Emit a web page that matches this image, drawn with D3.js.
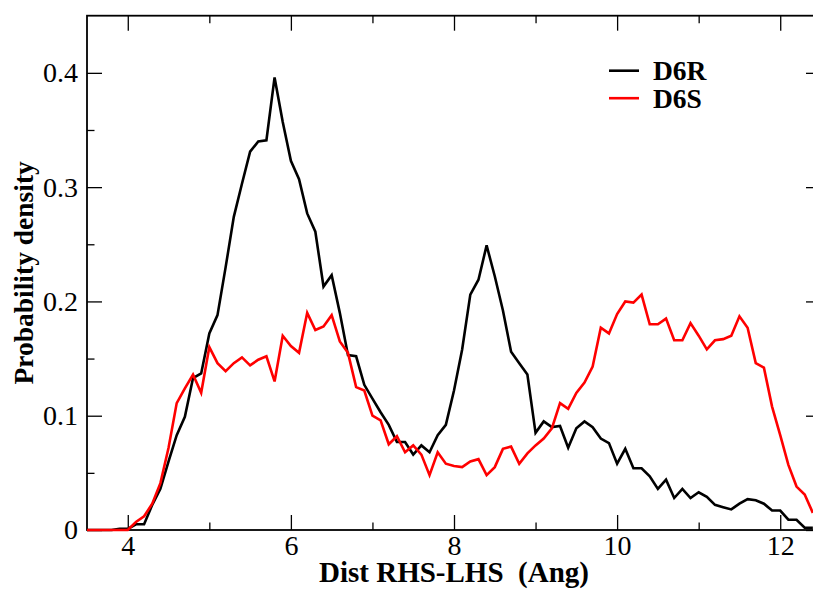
<!DOCTYPE html>
<html>
<head>
<meta charset="utf-8">
<script src="https://cdn.jsdelivr.net/npm/d3@7"></script>
<style>
  html, body { margin: 0; padding: 0; background: #fff; }
  svg { display: block; font-family: "Liberation Serif", "DejaVu Serif", serif; }
</style>
</head>
<body>
<svg id="chart" width="813" height="589"></svg>
<script>
// Distance bins (Å), 0.1 Å apart, from 3.5 to 12.4
const distances = d3.range(35, 125).map(i => i / 10);

// Probability density, D6R
const d6r = [
  0, 0, 0, 0, 0.001,
  0.001, 0.005, 0.005, 0.022, 0.036, 0.060, 0.083, 0.099, 0.133, 0.137,
  0.172, 0.188, 0.230, 0.274, 0.303, 0.331, 0.340, 0.341, 0.396, 0.357,
  0.323, 0.307, 0.277, 0.261, 0.213, 0.223, 0.190, 0.153, 0.152, 0.127,
  0.115, 0.103, 0.092, 0.077, 0.077, 0.066, 0.074, 0.068, 0.083, 0.092,
  0.122, 0.158, 0.206, 0.219, 0.249, 0.222, 0.192, 0.156, 0.146, 0.136,
  0.085, 0.095, 0.090, 0.091, 0.072, 0.089, 0.095, 0.090, 0.080, 0.076,
  0.058, 0.071, 0.054, 0.054, 0.047, 0.036, 0.044, 0.028, 0.036, 0.028,
  0.033, 0.029, 0.022, 0.020, 0.018, 0.023, 0.027, 0.026, 0.023, 0.017,
  0.017, 0.009, 0.009, 0.002, 0.002
];

// Probability density, D6S
const d6s = [
  0, 0, 0, 0, 0,
  0, 0.007, 0.012, 0.023, 0.041, 0.072, 0.111, 0.124, 0.136, 0.120,
  0.160, 0.146, 0.139, 0.146, 0.151, 0.144, 0.149, 0.152, 0.130, 0.170,
  0.161, 0.155, 0.190, 0.175, 0.178, 0.188, 0.165, 0.155, 0.125, 0.122,
  0.100, 0.096, 0.075, 0.082, 0.068, 0.074, 0.066, 0.048, 0.068, 0.058,
  0.056, 0.055, 0.060, 0.062, 0.048, 0.055, 0.071, 0.073, 0.058, 0.067,
  0.074, 0.080, 0.089, 0.111, 0.106, 0.120, 0.129, 0.143, 0.177, 0.172,
  0.189, 0.200, 0.199, 0.206, 0.180, 0.180, 0.185, 0.166, 0.166, 0.181,
  0.170, 0.158, 0.166, 0.167, 0.170, 0.187, 0.177, 0.146, 0.142, 0.108,
  0.083, 0.057, 0.038, 0.031, 0.015
];

const seriesNames = ["D6R", "D6S"];
const seriesColors = ["#000000", "#ff0000"];

const xMajor = [4, 6, 8, 10, 12];
const xMinor = [5, 7, 9, 11];
const yMajor = [0, 0.1, 0.2, 0.3, 0.4];
const yMinor = [0.05, 0.15, 0.25, 0.35];

const xTitle = "Dist RHS-LHS  (Ang)";
const yTitle = "Probability density";

// Frame geometry
const frameL = 87, frameR = 821, frameT = 15.7, frameB = 530;

const svg = d3.select("#chart");

const x = d3.scaleLinear().domain([3.5, 12.5]).range([frameL, frameR]);
const y = d3.scaleLinear().domain([0, 0.45]).range([frameB, frameT]);

const yFmt = d => d === 0 ? "0" : d3.format(".1f")(d);
const tickFont = 28;

function styleAxis(g) {
  g.select(".domain").remove();
  g.selectAll(".tick line").attr("stroke", "#000").attr("stroke-width", 1.3);
  g.selectAll("text").attr("font-size", tickFont).attr("fill", "#000")
    .attr("font-family", "Liberation Serif, serif");
}

// Bottom axis: major with labels, minor without
svg.append("g").attr("transform", `translate(0,${frameB})`)
  .call(d3.axisBottom(x).tickValues(xMajor).tickSize(-15).tickPadding(5).tickFormat(d3.format("d")))
  .call(styleAxis);
svg.append("g").attr("transform", `translate(0,${frameB})`)
  .call(d3.axisBottom(x).tickValues(xMinor).tickSize(-7.5).tickFormat(""))
  .call(styleAxis);

// Top axis (ticks only)
svg.append("g").attr("transform", `translate(0,${frameT})`)
  .call(d3.axisTop(x).tickValues(xMajor).tickSize(-15).tickFormat(""))
  .call(styleAxis);
svg.append("g").attr("transform", `translate(0,${frameT})`)
  .call(d3.axisTop(x).tickValues(xMinor).tickSize(-7.5).tickFormat(""))
  .call(styleAxis);

// Left axis
svg.append("g").attr("transform", `translate(${frameL},0)`)
  .call(d3.axisLeft(y).tickValues(yMajor).tickSize(-15).tickPadding(9).tickFormat(yFmt))
  .call(styleAxis);
svg.append("g").attr("transform", `translate(${frameL},0)`)
  .call(d3.axisLeft(y).tickValues(yMinor).tickSize(-7.5).tickFormat(""))
  .call(styleAxis);

// Right axis (ticks only)
svg.append("g").attr("transform", `translate(${frameR},0)`)
  .call(d3.axisRight(y).tickValues(yMajor).tickSize(-15).tickFormat(""))
  .call(styleAxis);
svg.append("g").attr("transform", `translate(${frameR},0)`)
  .call(d3.axisRight(y).tickValues(yMinor).tickSize(-7.5).tickFormat(""))
  .call(styleAxis);

// Frame
svg.append("rect")
  .attr("x", frameL).attr("y", frameT)
  .attr("width", frameR - frameL).attr("height", frameB - frameT)
  .attr("fill", "none").attr("stroke", "#000").attr("stroke-width", 1.8);

// Curves
const line = d3.line()
  .x((d, i) => x(distances[i]))
  .y(d => y(d));

[d6r, d6s].forEach((vals, k) => {
  svg.append("path")
    .datum(vals)
    .attr("d", line)
    .attr("fill", "none")
    .attr("stroke", seriesColors[k])
    .attr("stroke-width", 2.6)
    .attr("stroke-linejoin", "miter")
    .attr("stroke-miterlimit", 4);
});

// Legend
const legend = svg.append("g");
seriesNames.forEach((name, k) => {
  const ly = 70.7 + k * 27.5;
  legend.append("line")
    .attr("x1", 609).attr("x2", 639)
    .attr("y1", ly).attr("y2", ly)
    .attr("stroke", seriesColors[k]).attr("stroke-width", 2.6);
  legend.append("text")
    .attr("x", 653).attr("y", ly + 9.5)
    .attr("font-size", 27.5).attr("font-weight", "bold")
    .attr("fill", "#000")
    .text(name);
});

// Axis titles
svg.append("text")
  .attr("x", (frameL + frameR) / 2).attr("y", 582)
  .attr("text-anchor", "middle")
  .attr("font-size", 29).attr("font-weight", "bold")
  .style("white-space", "pre")
  .text(xTitle);

svg.append("text")
  .attr("transform", `translate(33,${(frameT + frameB) / 2}) rotate(-90)`)
  .attr("text-anchor", "middle")
  .attr("font-size", 27.5).attr("font-weight", "bold")
  .text(yTitle);
</script>
</body>
</html>
